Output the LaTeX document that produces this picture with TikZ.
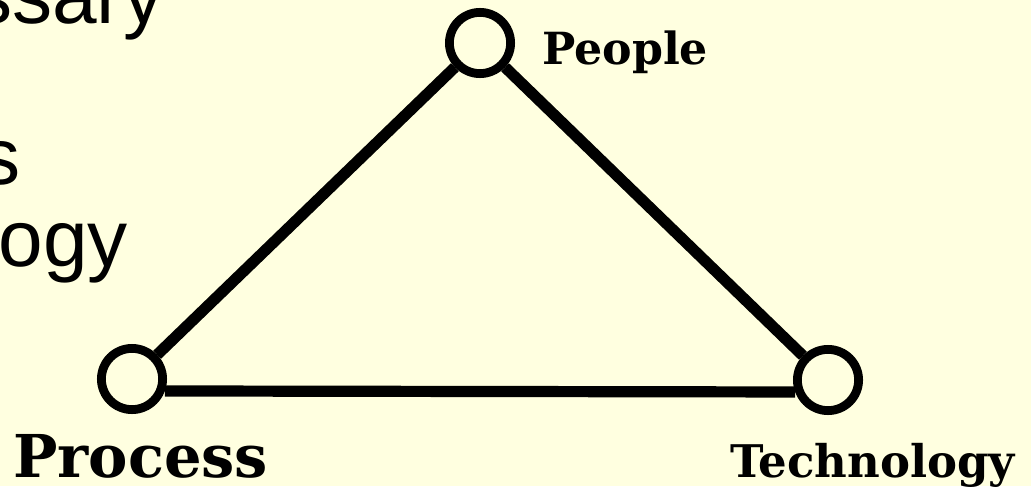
\documentclass[tikz,border=0pt]{standalone}
\usepackage{fontspec}
\newfontfamily\slidesans{Liberation Sans}
\newfontfamily\slideserif{DejaVu Serif}
\usepackage{xcolor}
\definecolor{slidebg}{RGB}{255,255,224}
\usetikzlibrary{positioning}

\begin{document}
\begin{tikzpicture}[x=0.025cm, y=-0.025cm,
  vertex/.style={circle, draw=black, fill=slidebg, line width=0.22cm, minimum size=1.53cm, inner sep=0pt},
  edge/.style={draw=black, line width=0.28cm},
  bullettext/.style={inner sep=0pt, anchor=base east, font=\slidesans\fontsize{57}{62}\selectfont},
  cornerlabel/.style={inner sep=0pt, anchor=base west}]
  % Background
  \fill[slidebg] (0,0) rectangle (1031,486);
  \useasboundingbox (0,0) rectangle (1031,486);

  % Bullet text cut off at the left
  \node[bullettext] (wordA) at (164,24) {ssary};
  \node[bullettext] (wordB) at (21,184) {s};
  \node[bullettext] (wordC) at (128,266) {ogy};

  % Triangle corners
  \node[vertex] (people) at (480,43) {};
  \node[vertex] (process) at (132,379) {};
  \node[vertex] (technology) at (828,380) {};

  % Sides
  \draw[edge] (process) -- (people);
  \draw[edge] (people) -- (technology);
  \draw[edge] (process.-20) -- (technology.200);

  % Labels
  \node[cornerlabel, font=\slideserif\bfseries\fontsize{31.5}{38}\selectfont] (peopleLabel) at (542,65) {People};
  \node[cornerlabel, font=\slideserif\bfseries\fontsize{42}{50}\selectfont] (processLabel) at (13,477) {Process};
  \node[cornerlabel, font=\slideserif\bfseries\fontsize{32}{40}\selectfont] (technologyLabel) at (730,477) {Technology};
\end{tikzpicture}
\end{document}
